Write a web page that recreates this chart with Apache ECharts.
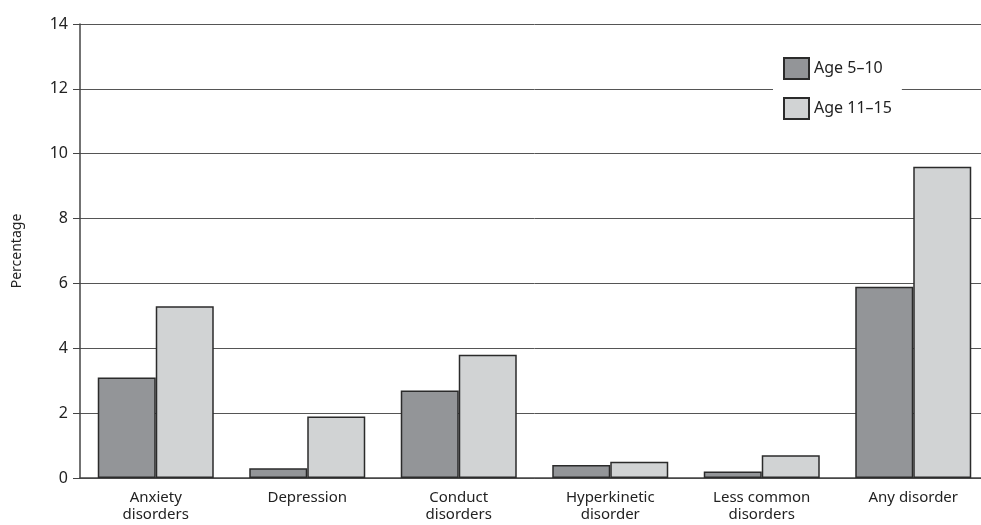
<!DOCTYPE html>
<html>
<head>
<meta charset="utf-8" />
<script src="https://cdn.jsdelivr.net/npm/echarts@6/dist/echarts.min.js"></script>
<style>
  html, body { margin: 0; padding: 0; background: #fff; overflow: hidden; }
  /* a bit wider than the window: the plot runs off the right edge like the original */
  #chart { width: 990px; height: 525px; }
</style>
</head>
<body>
<div id="chart"></div>
<script type="text/javascript">
// data
var categories = ['Anxiety\ndisorders', 'Depression', 'Conduct\ndisorders', 'Hyperkinetic\ndisorder', 'Less common\ndisorders', 'Any disorder'];
var age5to10 = [3.1, 0.3, 2.7, 0.4, 0.2, 5.9];
var age11to15 = [5.3, 1.9, 3.8, 0.5, 0.7, 9.6];
var seriesNames = ['Age 5\u201310', 'Age 11\u201315'];

var font = 'Noto Sans';
var chart = echarts.init(document.getElementById('chart'));

var option = {
    animation: false,
    textStyle: { fontFamily: font },
    grid: { left: 80, width: 909, top: 24, bottom: 47, containLabel: false },
    legend: {
        left: 773,
        top: 53,
        orient: 'vertical',
        icon: 'rect',
        itemWidth: 25,
        itemHeight: 21,
        itemGap: 17,
        backgroundColor: '#fff',
        padding: [4, 10, 4, 10],
        textStyle: { fontSize: 16, color: '#222', fontFamily: font },
        data: seriesNames
    },
    xAxis: {
        type: 'category',
        data: categories,
        axisLine: { lineStyle: { color: '#444', width: 1.5 } },
        axisTick: { show: false },
        axisLabel: { color: '#222', fontSize: 15, lineHeight: 17, margin: 11, interval: 0 }
    },
    yAxis: {
        type: 'value',
        min: 0,
        max: 14,
        interval: 2,
        name: 'Percentage',
        nameLocation: 'middle',
        nameGap: 56,
        nameRotate: 90,
        nameTextStyle: { fontSize: 14, color: '#222' },
        axisLine: { show: true, lineStyle: { color: '#444', width: 1.5 } },
        axisTick: { show: true, length: 7, lineStyle: { color: '#444' } },
        axisLabel: { color: '#222', fontSize: 16, margin: 12 },
        splitLine: { lineStyle: { color: '#555', width: 1 } }
    },
    series: [
        {
            name: seriesNames[0],
            type: 'bar',
            data: age5to10,
            barWidth: 58,
            barGap: '0%',
            itemStyle: { color: '#939598', borderColor: '#2b2b2b', borderWidth: 1.5 }
        },
        {
            name: seriesNames[1],
            type: 'bar',
            data: age11to15,
            barWidth: 58,
            barGap: '0%',
            itemStyle: { color: '#d1d3d4', borderColor: '#2b2b2b', borderWidth: 1.5 }
        }
    ]
};
chart.setOption(option);
</script>
</body>
</html>
